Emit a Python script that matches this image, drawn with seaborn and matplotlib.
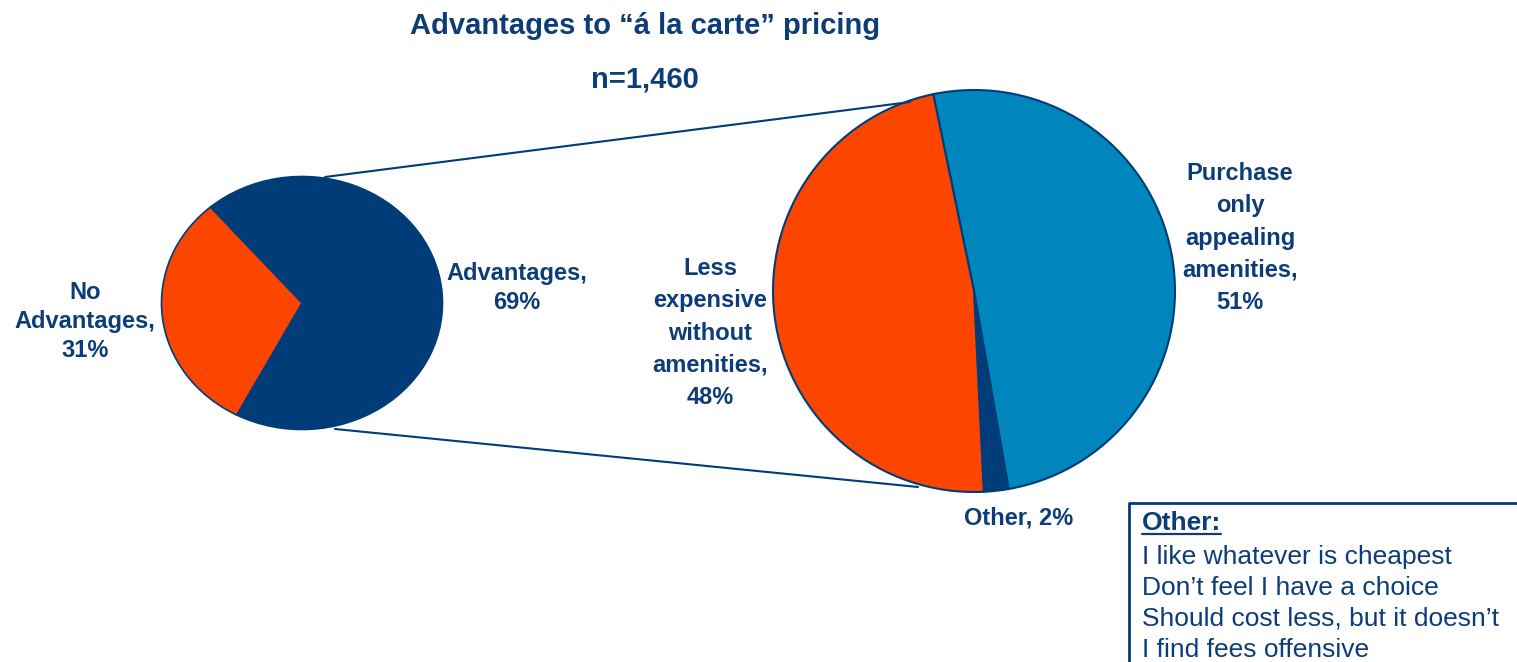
#!/usr/bin/env python3
import matplotlib
matplotlib.use("Agg")
import matplotlib.pyplot as plt
from matplotlib.lines import Line2D
import seaborn as sns

# Top-level split of all respondents
TOP_LABELS = ["Advantages", "No\nAdvantages"]
TOP_SHARES = [69, 31]

# Breakdown of the "Advantages" slice
SUB_LABELS = ["Purchase\nonly\nappealing\namenities", "Other",
              "Less\nexpensive\nwithout\namenities"]
SUB_SHARES = [51, 2, 48]

OTHER_REASONS = [
    "I like whatever is cheapest",
    "Don\u2019t feel I have a choice",
    "Should cost less, but it doesn\u2019t",
    "I find fees offensive",
]

TITLE = "Advantages to \u201c\u00e1 la carte\u201d pricing"
SUBTITLE = "n=1,460"

W, H = 1517, 662
NAVY = "#003c78"
ORANGE = "#fc4600"
BLUE = "#0085bc"
TEXT = "#0d3d78"


def fx(x):
    return x / W


def fy(y):
    return 1 - y / H


def label(name, pct):
    sep = " " if name == "Other" else "\n"
    return f"{name},{sep}{pct}%"


def pie_axes(fig, cx, cy, rx, ry):
    return fig.add_axes([fx(cx - rx), fy(cy + ry), 2 * rx / W, 2 * ry / H])


def main():
    sns.set_theme(style="white")
    plt.rcParams["font.family"] = ["Liberation Sans", "DejaVu Sans"]

    fig = plt.figure(figsize=(W / 100, H / 100), dpi=100)
    fig.patch.set_facecolor("white")

    wedge_kw = dict(edgecolor=NAVY, linewidth=1.2, clip_on=False)

    # left (elliptic) pie
    ax1 = pie_axes(fig, 302, 303, 140.5, 126.5)
    ax1.pie(TOP_SHARES, colors=[NAVY, ORANGE], startangle=-117.7,
            counterclock=True, wedgeprops=wedge_kw)
    ax1.set_aspect("auto")
    ax1.set_xlim(-1, 1)
    ax1.set_ylim(-1, 1)
    ax1.axis("off")

    # right pie: breakdown of advantages
    ax2 = pie_axes(fig, 974, 291, 201, 201)
    ax2.pie(SUB_SHARES, colors=[BLUE, NAVY, ORANGE], startangle=101.7,
            counterclock=False, wedgeprops=dict(wedge_kw, linewidth=1.5))
    ax2.set_aspect("auto")
    ax2.set_xlim(-1, 1)
    ax2.set_ylim(-1, 1)
    ax2.axis("off")

    # connector lines between the pies
    for (x0, y0), (x1, y1) in [((325, 177), (910, 102)),
                               ((335, 429), (918, 487))]:
        fig.add_artist(Line2D([fx(x0), fx(x1)], [fy(y0), fy(y1)],
                              color=NAVY, linewidth=1.5))

    # va="baseline" on multi-line text pins the LAST line's baseline
    txt = dict(color=TEXT, fontweight="bold", ha="center", va="baseline")
    fig.text(fx(645), fy(34), TITLE, fontsize=21, **txt)
    fig.text(fx(645), fy(88), SUBTITLE, fontsize=21, **txt)

    # slice labels
    top_pos = {"Advantages": (517, 309), "No\nAdvantages": (85, 357)}
    for name, pct in zip(TOP_LABELS, TOP_SHARES):
        x, y = top_pos[name]
        fig.text(fx(x), fy(y), label(name, pct), fontsize=17,
                 linespacing=1.34, **txt)

    sub_pos = [(1240, 309), (1019, 525), (710, 404)]
    for (x, y), name, pct in zip(sub_pos, SUB_LABELS, SUB_SHARES):
        fig.text(fx(x), fy(y), label(name, pct), fontsize=17,
                 linespacing=1.51, **txt)

    # "Other" answers box
    fig.add_artist(Line2D([fx(1129), fx(1129), fx(W + 5)],
                          [fy(H + 5), fy(503), fy(503)],
                          color=NAVY, linewidth=2))
    head = fig.text(fx(1142), fy(530), "Other:", fontsize=19, color=TEXT,
                    fontweight="bold", ha="left", va="baseline")
    fig.text(fx(1142), fy(657), "\n".join(OTHER_REASONS), fontsize=19,
             color=TEXT, ha="left", va="baseline", linespacing=1.37)

    # underline the heading
    fig.canvas.draw()
    bb = head.get_window_extent().transformed(fig.transFigure.inverted())
    fig.add_artist(Line2D([bb.x0, bb.x1], [fy(534), fy(534)],
                          color=TEXT, linewidth=1.6))

    fig.savefig("out.png", dpi=100, facecolor="white")
    plt.close(fig)


if __name__ == "__main__":
    main()
